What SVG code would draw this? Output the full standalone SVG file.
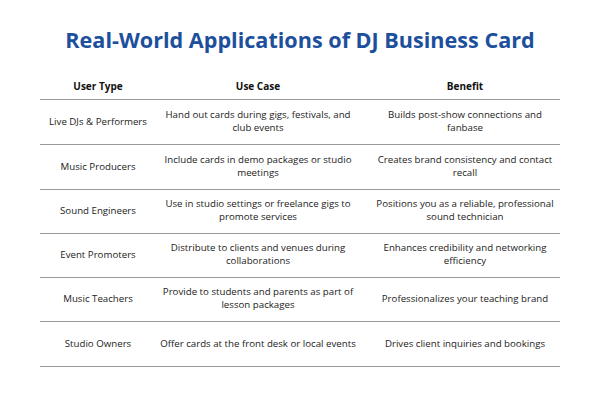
<svg xmlns="http://www.w3.org/2000/svg" width="600" height="400" viewBox="0 0 600 400">
<style>
text{font-family:"Open Sans","Liberation Sans",sans-serif;fill:#222;font-size:9.7px;text-anchor:middle}
.t{font-size:21.6px;font-weight:bold;fill:#1c4f9c}
.h{font-weight:bold;font-size:10px;fill:#111}
line{stroke:#999;stroke-width:1}
</style>
<rect width="600" height="400" fill="#fff"/>
<text class="t" x="300" y="48">Real-World Applications of DJ Business Card</text>
<g id="header"><text class="h" x="98" y="90">User Type</text><text class="h" x="258" y="90">Use Case</text><text class="h" x="465" y="90">Benefit</text></g>
<g id="lines">
<line x1="40" y1="99.5" x2="560" y2="99.5"/><line x1="40" y1="144.5" x2="560" y2="144.5"/><line x1="40" y1="189.5" x2="560" y2="189.5"/><line x1="40" y1="233.5" x2="560" y2="233.5"/><line x1="40" y1="277.5" x2="560" y2="277.5"/><line x1="40" y1="321.5" x2="560" y2="321.5"/><line x1="40" y1="366.5" x2="560" y2="366.5"/>
</g>
<g id="r1"><text x="98" y="125">Live DJs &amp; Performers</text><text x="258" y="118">Hand out cards during gigs, festivals, and</text><text x="258" y="131">club events</text><text x="465" y="118">Builds post-show connections and</text><text x="465" y="131">fanbase</text></g>
<g id="r2"><text x="98" y="170">Music Producers</text><text x="258" y="163">Include cards in demo packages or studio</text><text x="258" y="176">meetings</text><text x="465" y="163">Creates brand consistency and contact</text><text x="465" y="176">recall</text></g>
<g id="r3"><text x="98" y="214">Sound Engineers</text><text x="258" y="207">Use in studio settings or freelance gigs to</text><text x="258" y="220">promote services</text><text x="465" y="207">Positions you as a reliable, professional</text><text x="465" y="220">sound technician</text></g>
<g id="r4"><text x="98" y="258">Event Promoters</text><text x="258" y="251">Distribute to clients and venues during</text><text x="258" y="264">collaborations</text><text x="465" y="251">Enhances credibility and networking</text><text x="465" y="264">efficiency</text></g>
<g id="r5"><text x="98" y="302">Music Teachers</text><text x="258" y="295">Provide to students and parents as part of</text><text x="258" y="308">lesson packages</text><text x="465" y="302">Professionalizes your teaching brand</text></g>
<g id="r6"><text x="98" y="347">Studio Owners</text><text x="258" y="347">Offer cards at the front desk or local events</text><text x="465" y="347">Drives client inquiries and bookings</text></g>
</svg>
